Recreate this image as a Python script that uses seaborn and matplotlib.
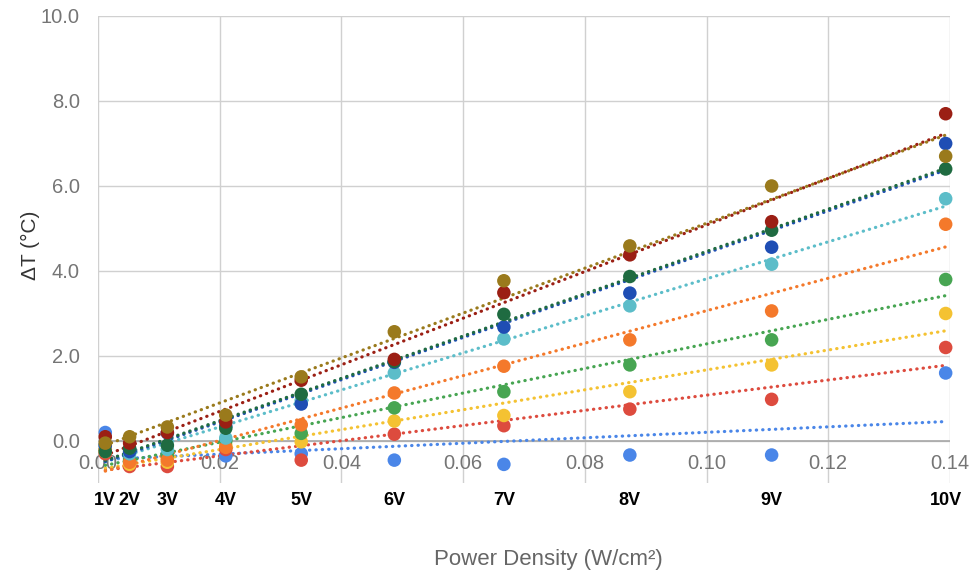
import matplotlib
matplotlib.use("Agg")
import matplotlib.pyplot as plt
import matplotlib.transforms as mtransforms
import seaborn as sns
import pandas as pd
import numpy as np

# Power density (W/cm²) per applied voltage
voltages = ["1V", "2V", "3V", "4V", "5V", "6V", "7V", "8V", "9V", "10V"]
power_density = [0.0012, 0.0052, 0.0114, 0.0210, 0.0334, 0.0487, 0.0667, 0.0874, 0.1107, 0.1393]

# Temperature rise (°C) for each series
blue = [0.20, -0.20, -0.30, -0.35, -0.30, -0.45, -0.55, -0.33, -0.33, 1.60]
red = [-0.30, -0.60, -0.60, -0.20, -0.45, 0.16, 0.36, 0.75, 0.98, 2.20]
yellow = [-0.25, -0.55, -0.50, -0.10, -0.02, 0.47, 0.60, 1.16, 1.79, 3.00]
green = [-0.20, -0.45, -0.33, 0.00, 0.18, 0.78, 1.16, 1.79, 2.38, 3.80]
orange = [-0.20, -0.50, -0.45, -0.15, 0.38, 1.13, 1.76, 2.38, 3.06, 5.10]
cyan = [-0.10, -0.30, -0.20, 0.07, 0.95, 1.60, 2.40, 3.18, 4.16, 5.70]
dark_blue = [-0.10, -0.25, 0.19, 0.35, 0.87, 1.85, 2.68, 3.48, 4.56, 7.00]
dark_green = [-0.25, -0.17, -0.10, 0.30, 1.10, 1.87, 2.98, 3.87, 4.96, 6.40]
dark_red = [0.10, -0.05, 0.20, 0.45, 1.43, 1.92, 3.49, 4.38, 5.16, 7.70]
olive = [-0.05, 0.10, 0.33, 0.61, 1.51, 2.57, 3.77, 4.59, 6.00, 6.70]

series = {
    "blue": blue, "red": red, "yellow": yellow, "green": green, "orange": orange,
    "cyan": cyan, "dark_blue": dark_blue, "dark_green": dark_green,
    "dark_red": dark_red, "olive": olive,
}
colors = {
    "blue": "#4a86e8", "red": "#dd4b3e", "yellow": "#f4c232", "green": "#47a552",
    "orange": "#f4792b", "cyan": "#5cbdc9", "dark_blue": "#1f4eb4",
    "dark_green": "#1f6b41", "dark_red": "#9b1f14", "olive": "#9a7a1c",
}

rows = []
for name, vals in series.items():
    for x, y in zip(power_density, vals):
        rows.append({"series": name, "power": x, "dT": y})
df = pd.DataFrame(rows)

sns.set_theme(style="whitegrid")
plt.rcParams["font.family"] = ["Liberation Sans", "DejaVu Sans"]

fig = plt.figure(figsize=(9.72, 5.73), dpi=100)
ax = fig.add_axes([0.1008, 0.1562, 0.8765, 0.8159])

# dotted linear trendlines
for name in series:
    sub = df[df["series"] == name]
    sns.regplot(data=sub, x="power", y="dT", ax=ax, scatter=False, ci=None,
                truncate=True, color=colors[name],
                line_kws={"linestyle": (0, (0.1, 1.9)), "linewidth": 2.3,
                          "dash_capstyle": "round", "zorder": 2})

sns.scatterplot(data=df, x="power", y="dT", hue="series", palette=colors,
                s=95, linewidth=0, ax=ax, legend=False, zorder=3, clip_on=False)

ax.set_xlim(0, 0.14)
ax.set_ylim(-1.0, 10.0)
ax.set_xticks(np.arange(0, 0.141, 0.02))
ax.set_xticklabels([f"{t:.2f}" for t in np.arange(0, 0.141, 0.02)])
ax.set_yticks(np.arange(0, 10.1, 2))
ax.set_yticklabels([f"{t:.1f}" for t in np.arange(0, 10.1, 2)])

ax.grid(True, color="#d0d0d0", linewidth=1)
ax.axhline(0, color="#a8a8a8", linewidth=1.2, zorder=1)
for s in ax.spines.values():
    s.set_visible(False)
ax.set_facecolor("white")

ax.tick_params(axis="x", length=0, pad=-21, labelsize=14.5, labelcolor="#757575")
ax.tick_params(axis="y", length=0, pad=13, labelsize=14.5, labelcolor="#757575")

ax.set_xlabel("Power Density (W/cm²)", fontsize=16, color="#666666")
ax.xaxis.set_label_coords(0.529, -0.14)
ax.set_ylabel("ΔT (°C)", fontsize=15, color="#333333")
ax.yaxis.set_label_coords(-0.068, 0.51)

# voltage annotations under the axis
trans = mtransforms.blended_transform_factory(ax.transData, ax.transAxes)
for v, x in zip(voltages, power_density):
    ax.text(x, -0.036, v, transform=trans, ha="center", va="center",
            fontsize=13, fontweight="bold", color="black", clip_on=False)

fig.savefig("out.png", dpi=100)
plt.close(fig)
